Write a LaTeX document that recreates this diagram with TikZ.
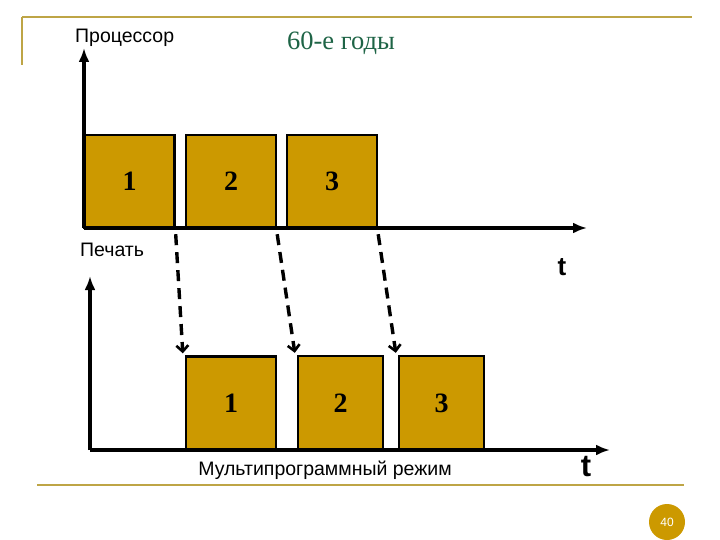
\documentclass[tikz,border=0pt]{standalone}
\usepackage{fontspec}
\setmainfont{Liberation Serif}
\setsansfont{Liberation Sans}
\usetikzlibrary{arrows.meta}
\definecolor{boxfill}{RGB}{204,153,0}
\definecolor{rule}{RGB}{190,165,70}
\definecolor{titlegreen}{RGB}{30,100,70}
\tikzset{
  jobbox/.style={draw=black, line width=2.4pt, fill=boxfill, minimum width=90pt, minimum height=93pt, inner sep=0pt, font=\fontsize{28}{30}\selectfont\bfseries},
  jobboxs/.style={jobbox, minimum width=85pt, minimum height=94pt},
  axis/.style={line width=3.4pt, -{Latex[length=14pt,width=11pt]}},
  transfer/.style={line width=3.4pt, dash pattern=on 11pt off 7pt, -{Straight Barb[length=6pt,width=12pt,line width=2.6pt]}},
  lbl/.style={font=\sffamily\fontsize{19.5}{21}\selectfont, inner sep=0pt},
}
\begin{document}
\begin{tikzpicture}[x=1pt,y=-1pt]
\useasboundingbox (0,0) rectangle (720,540);
% decorative rules
\draw[rule, line width=2.8pt] (22,17) -- (692,17);
\draw[rule, line width=2.2pt] (22,17) -- (22,65);
\draw[rule, line width=2.8pt] (37,485) -- (684,485);
\node[circle, fill=boxfill, minimum size=36pt, inner sep=0pt, text=white, font=\sffamily\fontsize{12}{13}\selectfont] (pg) at (667,522) {40};
% title
\node[font=\fontsize{26.5}{28}\selectfont, text=titlegreen, inner sep=0pt] (title) at (341,43) {60-е годы};
% processor axis
\coordinate (O1) at (84,228);
\coordinate (Y1) at (84,48);
\coordinate (X1) at (587,228);
\node[lbl, anchor=west] (proc) at (75,38) {Процессор};
% top boxes
\node[jobbox] (p1) at (129.5,181.5) {1};
\node[jobbox] (p2) at (231,181.5) {2};
\node[jobbox] (p3) at (332,181.5) {3};
\draw[axis] (O1) -- (Y1);
\draw[axis] (O1) -- (X1);
\node[font=\sffamily\bfseries\fontsize{26}{28}\selectfont, inner sep=0pt] (t1) at (562,267) {t};
% print axis
\node[lbl, anchor=west] (print) at (80,250) {Печать};
\coordinate (O2) at (90,450);
\coordinate (Y2) at (90,276);
\coordinate (X2) at (610,450);
\node[jobbox] (q1) at (231,403) {1};
\node[jobboxs] (q2) at (340.5,403) {2};
\node[jobboxs] (q3) at (441.5,403) {3};
\draw[axis] (O2) -- (Y2);
\draw[axis] (O2) -- (X2);
\node[font=\sffamily\bfseries\fontsize{31}{33}\selectfont, inner sep=0pt] (t2) at (586,467) {t};
\node[lbl] (mode) at (325,470) {Мультипрограммный режим};
% transfers
\draw[transfer] ([yshift=-5pt]p1.south east) -- ([xshift=-2pt,yshift=2pt]q1.north west);
\draw[transfer] ([yshift=-5pt]p2.south east) -- ([xshift=-2pt,yshift=2pt]q2.north west);
\draw[transfer] ([yshift=-5pt]p3.south east) -- ([xshift=-2pt,yshift=2pt]q3.north west);
\end{tikzpicture}
\end{document}
